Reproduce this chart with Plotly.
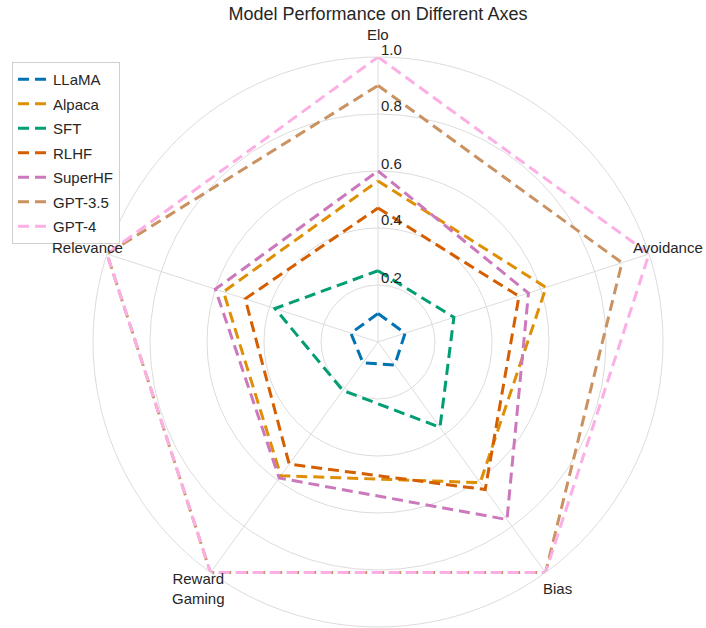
import math
import plotly.graph_objects as go

# Radar chart: model scores on five evaluation axes
axes_names = ["Elo", "Avoidance", "Bias", "Reward<br>Gaming", "Relevance"]
models = ["LLaMA", "Alpaca", "SFT", "RLHF", "SuperHF", "GPT-3.5", "GPT-4"]

llama = [0.10, 0.10, 0.10, 0.09, 0.10]
alpaca = [0.565, 0.62, 0.61, 0.58, 0.57]
sft = [0.25, 0.28, 0.37, 0.21, 0.38]
rlhf = [0.47, 0.52, 0.64, 0.53, 0.49]
superhf = [0.60, 0.555, 0.77, 0.59, 0.60]
gpt35 = [0.90, 0.90, 1.0, 1.0, 1.0]
gpt4 = [1.0, 1.0, 1.0, 1.0, 1.0]

radial_ticks = [0.2, 0.4, 0.6, 0.8, 1.0]

colors = ["#0173B2", "#DE8F05", "#029E73", "#D55E00", "#CC78BC", "#CA9161", "#FBAFE4"]
series = [llama, alpaca, sft, rlhf, superhf, gpt35, gpt4]

W, H = 706, 628
CX, CY, R = 378, 342, 285  # polar centre and radius in px
FONT = "Liberation Sans, Arial, sans-serif"

fig = go.Figure()
thetas = list(axes_names)
for name, vals, col in zip(models, series, colors):
    fig.add_trace(go.Scatterpolar(
        r=vals + vals[:1],
        theta=thetas + thetas[:1],
        mode="lines",
        name=name,
        legendgroup=name,
        line=dict(color=col, width=3, dash="11px,6px"),
    ))

annotations = []
# category labels, centred just outside the outer ring
label_r = [1.08, 1.07, 1.07, 1.07, 1.07]
for i, lab in enumerate(axes_names):
    ang = math.radians(90 - 72 * i)
    px = CX + R * label_r[i] * math.cos(ang)
    py = CY - R * label_r[i] * math.sin(ang)
    annotations.append(dict(
        x=px / W, y=1 - py / H, xref="paper", yref="paper",
        text=lab, showarrow=False, xanchor="center", yanchor="middle",
        font=dict(family=FONT, size=15, color="#262626"),
    ))
# radial tick labels along the Elo spoke
for v in radial_ticks:
    py = CY - R * v - 8
    annotations.append(dict(
        x=(CX + 1) / W, y=1 - py / H, xref="paper", yref="paper",
        text=f"{v:.1f}", showarrow=False, xanchor="left", yanchor="middle",
        font=dict(family=FONT, size=15, color="#262626"),
    ))

fig.update_layout(
    width=W, height=H,
    margin=dict(l=0, r=0, t=0, b=0),
    paper_bgcolor="white",
    plot_bgcolor="white",
    font=dict(family=FONT, color="#262626"),
    title=dict(
        text="Model Performance on Different Axes",
        x=CX / W, xanchor="center", y=1 - 14 / H, yanchor="middle",
        font=dict(family=FONT, size=18, color="#262626"),
    ),
    polar=dict(
        domain=dict(x=[(CX - R) / W, (CX + R) / W], y=[1 - (CY + R) / H, 1 - (CY - R) / H]),
        bgcolor="white",
        radialaxis=dict(
            range=[0, 1.0], tickvals=radial_ticks, showticklabels=False,
            ticks="", showline=False, gridcolor="#dcdcdc", gridwidth=1, angle=90,
        ),
        angularaxis=dict(
            rotation=90, direction="clockwise", showticklabels=False, ticks="",
            gridcolor="#dcdcdc", gridwidth=1, showline=True, linecolor="#dcdcdc", linewidth=1,
        ),
    ),
    legend=dict(
        x=12 / W, y=1 - 62 / H, xanchor="left", yanchor="top",
        bgcolor="rgba(255,255,255,0.85)", bordercolor="#d0d0d0", borderwidth=1,
        font=dict(family=FONT, size=15, color="#262626"),
        tracegroupgap=2,
    ),
    annotations=annotations,
    showlegend=True,
)

fig.write_html("out.html")
